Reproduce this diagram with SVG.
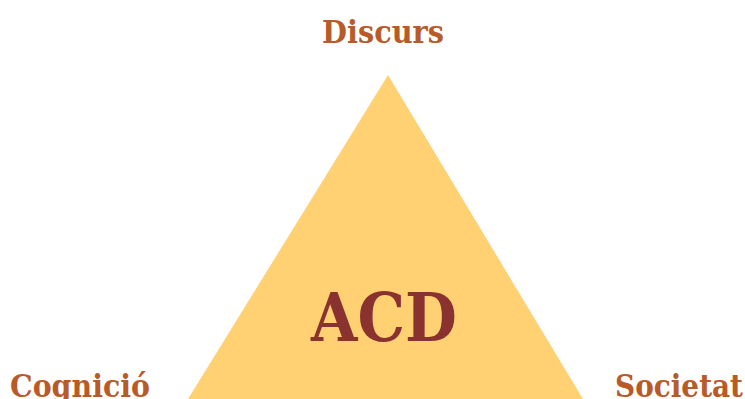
<svg xmlns="http://www.w3.org/2000/svg" width="745" height="399" viewBox="0 0 745 399">
<style>
.lbl{font-family:"DejaVu Serif","Liberation Serif",serif;font-weight:bold;fill:#b95b29;font-size:32px}
.main{font-family:"DejaVu Serif","Liberation Serif",serif;font-weight:bold;fill:#8a3230;font-size:68px}
</style>
<rect width="745" height="399" fill="#ffffff"/>
<g id="triangle">
<polygon points="388,75 188,399 583,399" fill="#ffd172"/>
<text class="main" x="384" y="341" text-anchor="middle" textLength="146" lengthAdjust="spacingAndGlyphs">ACD</text>
</g>
<g id="discurs"><text class="lbl" x="322" y="43" textLength="122" lengthAdjust="spacingAndGlyphs">Discurs</text></g>
<g id="cognicio"><text class="lbl" x="10" y="397" textLength="140" lengthAdjust="spacingAndGlyphs">Cognició</text></g>
<g id="societat"><text class="lbl" x="615" y="397" textLength="128" lengthAdjust="spacingAndGlyphs">Societat</text></g>
<g id="connectors"/>
</svg>
